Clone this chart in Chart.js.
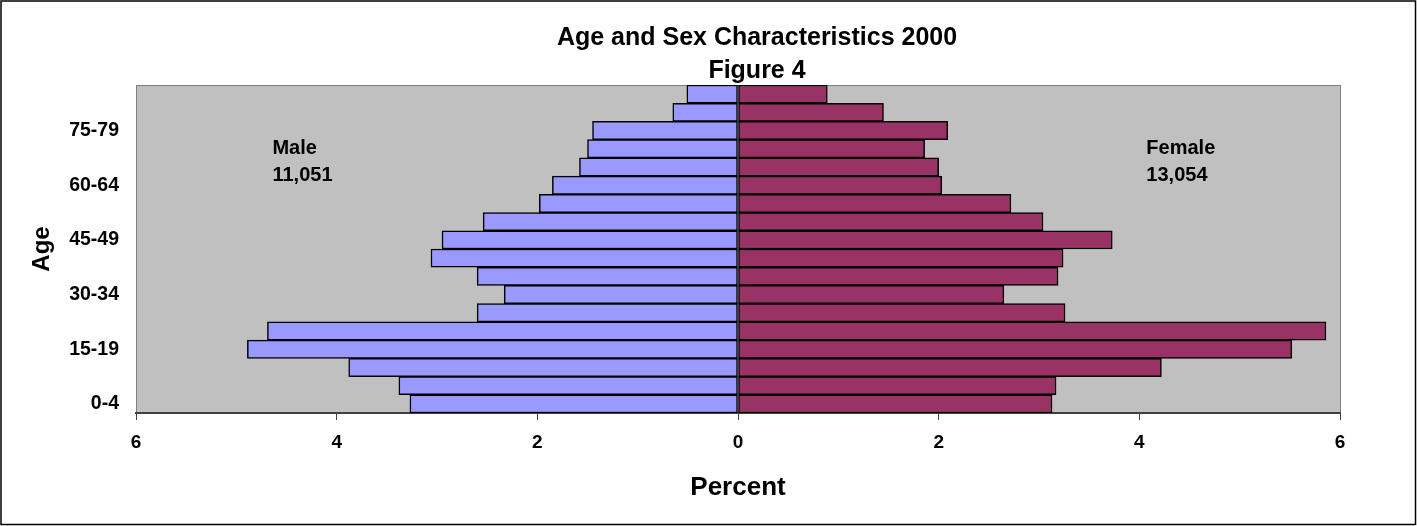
<!DOCTYPE html>
<html>
<head>
<meta charset="utf-8">
<script src="https://cdn.jsdelivr.net/npm/chart.js@4.4.1/dist/chart.umd.min.js"></script>
<style>
  html, body { margin: 0; padding: 0; background: #fff; }
  #wrap { width: 1417px; height: 526px; }
</style>
</head>
<body>
<div id="wrap"><canvas id="pyramid"></canvas></div>
<script>
// age groups, bottom (youngest) to top
const ageGroups = ['0-4','5-9','10-14','15-19','20-24','25-29','30-34','35-39','40-44',
  '45-49','50-54','55-59','60-64','65-69','70-74','75-79','80-84','85+'];
// percent of total population
const malePct   = [3.27, 3.38, 3.88, 4.89, 4.69, 2.60, 2.33, 2.60, 3.06,
  2.95, 2.54, 1.98, 1.85, 1.58, 1.50, 1.45, 0.65, 0.51];
const femalePct = [3.13, 3.17, 4.22, 5.52, 5.86, 3.26, 2.65, 3.19, 3.24,
  3.73, 3.04, 2.72, 2.03, 2.00, 1.86, 2.09, 1.45, 0.89];
const xTicks = [-6, -4, -2, 0, 2, 4, 6];
const totals = { male: '11,051', female: '13,054' };

const FONT = "'Liberation Sans', Arial, sans-serif";

// grey plot area + outer frame
const backdrop = {
  id: 'backdrop',
  beforeDraw(chart) {
    const ctx = chart.ctx, a = chart.chartArea;
    ctx.save();
    ctx.fillStyle = '#ffffff';
    ctx.fillRect(0, 0, chart.width, chart.height);
    ctx.strokeStyle = '#000000';
    ctx.lineWidth = 1.5;
    ctx.strokeRect(1, 1, chart.width - 2.5, chart.height - 2.5);
    ctx.fillStyle = '#c0c0c0';
    ctx.fillRect(a.left, a.top, a.right - a.left, a.bottom - a.top);
    ctx.strokeStyle = '#808080';
    ctx.lineWidth = 1;
    ctx.strokeRect(a.left + 0.5, a.top + 0.5, a.right - a.left, a.bottom - a.top);
    ctx.restore();
  },
  afterDraw(chart) {
    const ctx = chart.ctx;
    const x = chart.scales.x, y = chart.scales.y;
    ctx.save();
    ctx.fillStyle = '#000';
    ctx.textAlign = 'center';
    ctx.textBaseline = 'middle';
    ctx.font = 'bold 25px ' + FONT;
    ctx.fillText('Age and Sex Characteristics 2000', 757, 38);
    ctx.fillText('Figure 4', 757, 71);
    // Male / Female totals
    ctx.textAlign = 'left';
    ctx.font = 'bold 20px ' + FONT;
    const yTop = y.getPixelForValue(14);
    ctx.fillText('Male', x.getPixelForValue(-4.64), yTop);
    ctx.fillText(totals.male, x.getPixelForValue(-4.64), yTop + 27);
    ctx.fillText('Female', x.getPixelForValue(4.07), yTop);
    ctx.fillText(totals.female, x.getPixelForValue(4.07), yTop + 27);
    ctx.restore();
  }
};

const ctx = document.getElementById('pyramid').getContext('2d');
const config = {
  type: 'bar',
  data: {
    labels: ageGroups,
    datasets: [{
      label: 'Male',
      data: malePct.map(v => -v),
      backgroundColor: '#9999ff',
      borderColor: '#000000',
      borderWidth: 1.5,
      borderSkipped: false,
      barPercentage: 1,
      categoryPercentage: 1
    }, {
      label: 'Female',
      data: femalePct,
      backgroundColor: '#993366',
      borderColor: '#000000',
      borderWidth: 1.5,
      borderSkipped: false,
      barPercentage: 1,
      categoryPercentage: 1
    }]
  },
  options: {
    indexAxis: 'y',
    responsive: true,
    maintainAspectRatio: false,
    animation: false,
    layout: { padding: { top: 85, right: 77, left: 0, bottom: 0 } },
    plugins: {
      legend: { display: false },
      title: { display: false },
      tooltip: { enabled: false }
    },
    scales: {
      x: {
        type: 'linear',
        min: -6,
        max: 6,
        stacked: true,
        afterBuildTicks: axis => { axis.ticks = xTicks.map(v => ({ value: v })); },
        afterFit: axis => { axis.height = 113; },
        ticks: {
          callback: v => Math.abs(v),
          color: '#000',
          padding: 11,
          font: { family: FONT, size: 19, weight: 'bold' }
        },
        grid: { drawOnChartArea: false, drawTicks: true, tickLength: 7, color: '#404040' },
        border: { display: true, color: '#404040', width: 2 },
        title: {
          display: true,
          text: 'Percent',
          color: '#000',
          padding: 23,
          font: { family: FONT, size: 26, weight: 'bold' }
        }
      },
      y: {
        type: 'category',
        reverse: true,
        stacked: true,
        afterFit: axis => { axis.width = 136; },
        ticks: {
          autoSkip: false,
          color: '#000',
          padding: 17,
          callback: function (v, i) { return i % 3 === 0 ? ageGroups[i] : ''; },
          font: { family: FONT, size: 19.5, weight: 'bold' }
        },
        grid: { display: false, drawTicks: false },
        border: { display: false },
        title: {
          display: true,
          text: 'Age',
          color: '#000',
          padding: 28,
          font: { family: FONT, size: 24, weight: 'bold' }
        }
      }
    }
  },
  plugins: [backdrop]
};
const pyramid = new Chart(ctx, config);
</script>
</body>
</html>
